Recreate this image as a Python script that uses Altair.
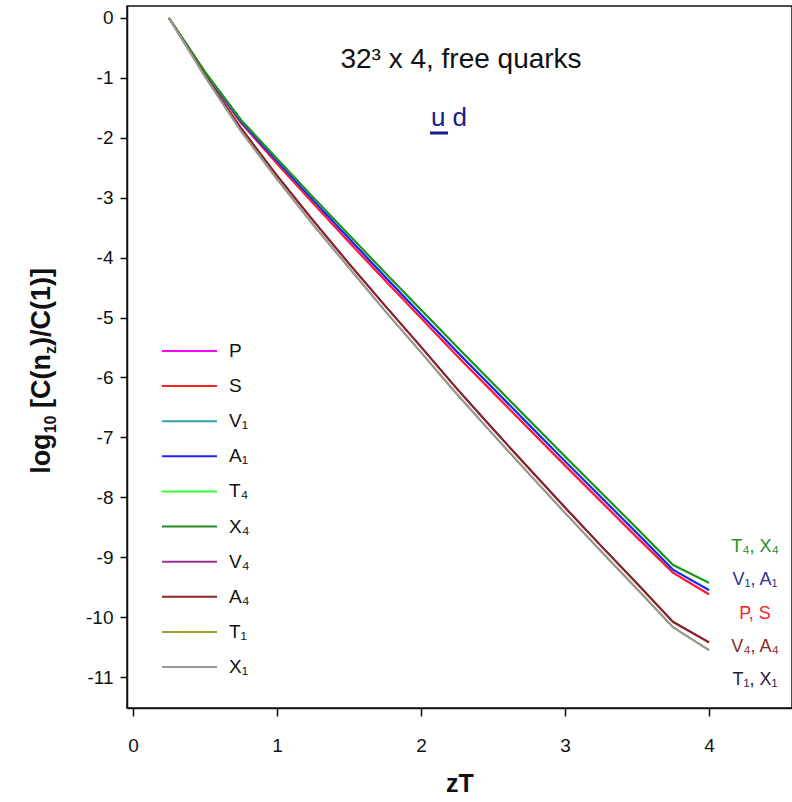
import altair as alt
import pandas as pd

# ---------------- data ----------------
zT = [0.25, 0.5, 0.75, 1.0, 1.25, 1.5, 1.75, 2.0, 2.25, 2.5, 2.75, 3.0, 3.25, 3.5, 3.75, 4.0]

series = ["P", "S", "V1", "A1", "T4", "X4", "V4", "A4", "T1", "X1"]
series_labels = ["P", "S", "V₁", "A₁", "T₄", "X₄", "V₄", "A₄", "T₁", "X₁"]
series_colors = ["#ff00ff", "#ff2020", "#33a3a3", "#2020ff", "#33ff33",
                 "#228b22", "#993399", "#8b2323", "#9c9c2a", "#999999"]

vals_PS = [0, -0.92, -1.75, -2.43, -3.09, -3.74, -4.38, -5.01, -5.64, -6.25,
           -6.86, -7.47, -8.07, -8.67, -9.26, -9.62]
vals_V1A1 = [0, -0.91, -1.73, -2.39, -3.04, -3.68, -4.32, -4.95, -5.57, -6.18,
             -6.79, -7.40, -8.00, -8.60, -9.21, -9.55]
vals_T4X4 = [0, -0.90, -1.70, -2.35, -2.99, -3.62, -4.25, -4.87, -5.49, -6.10,
             -6.71, -7.32, -7.92, -8.52, -9.13, -9.43]
vals_V4A4 = [0, -0.96, -1.84, -2.63, -3.38, -4.10, -4.80, -5.49, -6.19, -6.86,
             -7.52, -8.17, -8.81, -9.44, -10.08, -10.42]
vals_T1X1 = [0, -0.98, -1.89, -2.69, -3.45, -4.17, -4.89, -5.58, -6.28, -6.95,
             -7.61, -8.26, -8.90, -9.53, -10.17, -10.55]

series_values = {
    "P": vals_PS, "S": vals_PS,
    "V1": vals_V1A1, "A1": vals_V1A1,
    "T4": vals_T4X4, "X4": vals_T4X4,
    "V4": vals_V4A4, "A4": vals_V4A4,
    "T1": vals_T1X1, "X1": vals_T1X1,
}

x_ticks = [0, 1, 2, 3, 4]
y_ticks = [-11, -10, -9, -8, -7, -6, -5, -4, -3, -2, -1, 0]

group_labels = ["T₄, X₄", "V₁, A₁", "P, S", "V₄, A₄", "T₁, X₁"]
group_colors = ["#2e8b2e", "#30309a", "#ff2020", "#8b2a2a", "#1c1c3a"]

# ---------------- tables ----------------
rows = []
for s in series:
    for z, v in zip(zT, series_values[s]):
        rows.append({"series": s, "zT": z, "val": v})
df = pd.DataFrame(rows)

df_leg = pd.DataFrame({"series": series, "label": series_labels,
                       "idx": list(range(len(series)))})

W, H = 665, 702
FONT = "Liberation Sans"

color_scale = alt.Scale(domain=series, range=series_colors)
x_scale = alt.Scale(domain=[-0.0417, 4.576], nice=False, zero=False)
y_scale = alt.Scale(domain=[-11.517, 0.2], nice=False, zero=False)

lines = alt.Chart(df).mark_line(strokeWidth=2).encode(
    x=alt.X("zT:Q", scale=x_scale,
            axis=alt.Axis(values=x_ticks, title="zT", labelExpr="'' + datum.value",
                          tickSize=8, labelPadding=20, labelFontSize=19,
                          titleFontSize=25, titleFontWeight="bold",
                          titlePadding=16, titleFont=FONT)),
    y=alt.Y("val:Q", scale=y_scale,
            axis=alt.Axis(values=y_ticks, title=None, labelExpr="'' + datum.value",
                          tickSize=7, labelPadding=7, labelFontSize=19)),
    color=alt.Color("series:N", scale=color_scale, legend=None),
)

# manual legend
leg_y = alt.Y("idx:Q", scale=alt.Scale(domain=[0, 9], range=[345, 661]), axis=None)
leg_rules = alt.Chart(df_leg).mark_rule(strokeWidth=2).encode(
    x=alt.value(35), x2=alt.value(90), y=leg_y,
    color=alt.Color("series:N", scale=color_scale, legend=None),
)
leg_text = alt.Chart(df_leg).mark_text(
    align="left", baseline="middle", fontSize=19, font=FONT, color="#111111"
).encode(x=alt.value(102), y=leg_y, text="label:N")

# right-side group labels
df_grp = pd.DataFrame({"label": group_labels, "gi": list(range(len(group_labels))),
                       "col": group_colors})
grp_text = alt.Chart(df_grp).mark_text(
    align="center", baseline="middle", fontSize=18, font=FONT
).encode(
    x=alt.value(628),
    y=alt.Y("gi:Q", scale=alt.Scale(domain=[0, 4], range=[541, 674]), axis=None),
    text="label:N",
    color=alt.Color("col:N", scale=None),
)

# titles in plot
base_ann = alt.Chart(pd.DataFrame({"a": [0]}))
title_txt = base_ann.mark_text(fontSize=28, font=FONT, color="#111111",
                               align="center", baseline="middle").encode(
    x=alt.value(334), y=alt.value(54), text=alt.value("32³ x 4, free quarks"))
ud_txt = base_ann.mark_text(fontSize=26, font=FONT, color="#1a1a8c",
                            align="center", baseline="middle").encode(
    x=alt.value(322), y=alt.value(112), text=alt.value("u d"))
ud_bar = base_ann.mark_rule(strokeWidth=3, color="#1a1a8c").encode(
    x=alt.value(303), x2=alt.value(321), y=alt.value(127))

# rotated y-axis title with sub-scripts
S, s = 27, 16
pieces = [("log", S, 0, 0), ("10", s, 6, 0), ("[C(n", S, 0, 278), ("z", s, 6, 0),
          (")/C(1)]", S, 0, 0)]
em = {"l": 278, "o": 611, "g": 611, "1": 556, "0": 556, " ": 278, "[": 333,
      "C": 722, "(": 333, "n": 611, "z": 500, "/": 278, ")": 333, "]": 333}
widths = [(sum(em[c] for c in t) + lead) / 1000 * fs for t, fs, _, lead in pieces]
total = sum(widths)
y_start = 371 - 6 + total / 2
ytitle_layers = []
off = 0
for (t, fs, sh, lead), w in zip(pieces, widths):
    ytitle_layers.append(
        base_ann.mark_text(fontSize=fs, font=FONT, fontWeight="bold", color="#111111",
                           align="left", baseline="alphabetic", angle=270,
                           dx=off + lead / 1000 * fs, dy=sh).encode(
            x=alt.value(-77), y=alt.value(y_start), text=alt.value(t)))
    off += w

chart = alt.layer(
    lines, leg_rules, leg_text, grp_text, title_txt, ud_txt, ud_bar, *ytitle_layers
).resolve_scale(y="independent", color="independent").properties(
    width=W, height=H,
    autosize=alt.AutoSizeParams(type="none"),
    padding={"left": 127, "top": 6, "right": 0, "bottom": 94},
    background="white",
).configure_view(stroke="#111111", strokeWidth=1.5).configure_axis(
    grid=False, labelFont=FONT, labelColor="#111111", tickColor="#111111",
    domainColor="#111111", domainWidth=1.5, tickWidth=1.5, titleColor="#111111"
)

chart.save("out.html", embed_options={"renderer": "svg", "actions": False})
